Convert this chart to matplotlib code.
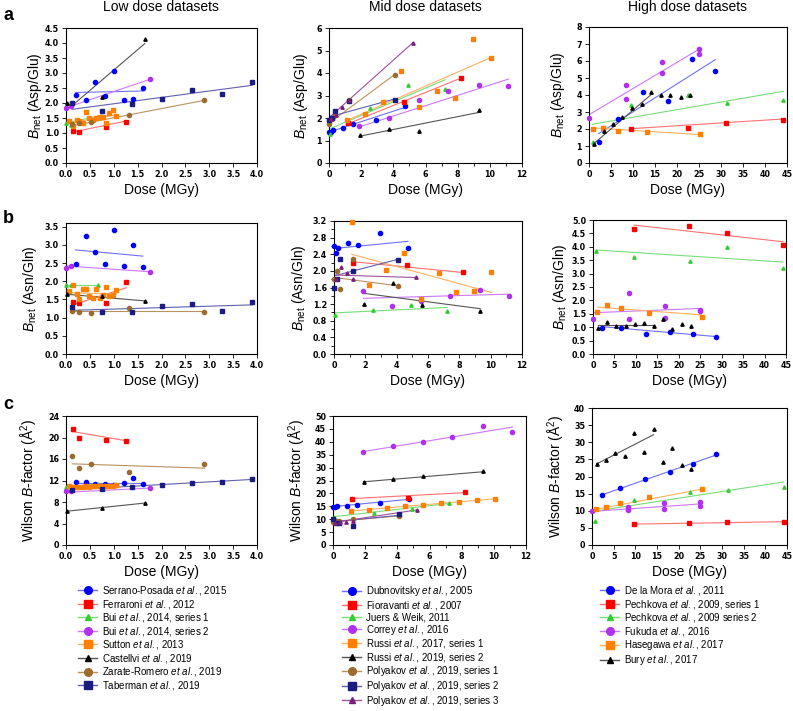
import numpy as np
import matplotlib
matplotlib.use('Agg')
import matplotlib.pyplot as plt
from matplotlib.lines import Line2D

plt.rcParams['font.family'] = 'Liberation Sans'
plt.rcParams['mathtext.fontset'] = 'custom'
plt.rcParams['mathtext.rm'] = 'Liberation Sans'
plt.rcParams['mathtext.it'] = 'Liberation Sans:italic'
plt.rcParams['mathtext.bf'] = 'Liberation Sans:bold'

# ══════════════════════════════════════════════
#  DATA  (dose in MGy; values per row a / b / c)
#  fits = trend line end values for (Asp/Glu, Asn/Gln, Wilson B)
# ══════════════════════════════════════════════
# ── low dose ──
serrano_dose = [0.20, 0.41, 0.61, 0.82, 1.01, 1.22, 1.41, 1.61]
serrano_asp = [2.27, 2.09, 2.71, 2.23, 3.07, 2.11, 2.14, 2.49]
serrano_asn = [2.48, 3.23, 2.81, 2.47, 3.42, 2.43, 2.99, 2.38]
serrano_wil = [11.8, 11.8, 11.4, 11.3, 11.2, 11.6, 12.4, 11.4]
serrano_fits = [(2.35, 2.40), (2.86, 2.69), (11.6, 11.6)]

ferraroni_dose = [0.14, 0.28, 0.84, 1.26]
ferraroni_asp = [1.06, 1.03, 1.20, 1.38]
ferraroni_asn = [1.42, 1.41, 1.39, 1.97]
ferraroni_wil = [21.5, 20.0, 19.5, 19.3]
ferraroni_fits = [(1.03, 1.40), (1.35, 1.82), (21.1, 19.4)]

bui1_dose = [0.0, 0.10, 0.66]
bui1_asp = [1.33, 1.27, 1.53]
bui1_asn = [1.89, 1.89, 1.89]
bui1_wil = [10.8, 10.9, 11.3]
bui1_fits = [(1.33, 1.56), (1.89, 1.89), (10.7, 11.4)]

bui2_dose = [0.0, 0.11, 1.76]
bui2_asp = [1.84, 1.91, 2.79]
bui2_asn = [2.36, 2.42, 2.26]
bui2_wil = [10.0, 10.0, 10.6]
bui2_fits = [(1.84, 2.79), (2.42, 2.26), (9.8, 10.6)]

sutton_dose = [0.07, 0.14, 0.22, 0.28, 0.35, 0.42, 0.49, 0.56, 0.63, 0.71,
               0.78, 0.84, 0.91, 0.98, 1.05]
sutton_asp = [1.40, 1.23, 1.42, 1.39, 1.33, 1.69, 1.51, 1.42, 1.49, 1.54,
              1.54, 1.32, 1.68, 1.78, 1.57]
sutton_asn = [1.73, 1.90, 1.66, 1.50, 1.79, 1.79, 1.60, 1.55, 1.79, 1.53,
              1.62, 1.85, 1.59, 1.62, 1.76]
sutton_wil = [10.9, 10.7, 10.8, 10.7, 10.8, 10.9, 10.8, 10.9, 10.9, 11.0,
              10.9, 11.0, 11.0, 11.0, 11.1]
sutton_fits = [(1.33, 1.61), (1.69, 1.64), (10.7, 11.1)]

castellvi_dose = [0.03, 0.76, 1.65]
castellvi_asp = [2.00, 2.20, 4.14]
castellvi_asn = [1.64, 1.59, 1.46]
castellvi_wil = [6.3, 6.9, 7.8]
castellvi_fits = [(1.78, 3.98), (1.64, 1.46), (6.3, 7.8)]

zarate_dose = [0.13, 0.27, 0.52, 1.31, 2.90]
zarate_asp = [1.30, 1.33, 1.37, 1.61, 2.09]
zarate_asn = [1.19, 1.16, 1.12, 1.26, 1.16]
zarate_wil = [16.6, 14.3, 15.1, 13.5, 15.0]
zarate_fits = [(1.24, 2.09), (1.18, 1.18), (15.1, 14.3)]

taberman_dose = [0.13, 0.76, 1.38, 2.02, 2.64, 3.27, 3.90]
taberman_asp = [2.01, 1.72, 1.98, 2.13, 2.42, 2.31, 2.71]
taberman_asn = [1.28, 1.16, 1.16, 1.33, 1.37, 1.18, 1.42]
taberman_wil = [10.3, 10.4, 10.7, 11.1, 11.5, 11.8, 12.2]
taberman_fits = [(1.79, 2.59), (1.20, 1.35), (10.3, 12.2)]

# ── mid dose ──
dubnovitsky_dose = [0.03, 0.13, 0.26, 0.88, 1.52, 2.92, 4.72]
dubnovitsky_asp = [1.38, 1.36, 1.48, 1.57, 1.72, 1.93, 2.52]
dubnovitsky_asn = [2.61, 2.42, 2.54, 2.66, 2.63, 2.90, 2.54]
dubnovitsky_wil = [14.9, 14.9, 15.0, 15.1, 15.6, 16.4, 17.7]
dubnovitsky_fits = [(1.38, 2.47), (2.54, 2.71), (14.9, 17.7)]

fioravanti_dose = [1.20, 4.65, 8.23]
fioravanti_asp = [1.78, 2.71, 3.79]
fioravanti_asn = [2.20, 2.13, 1.97]
fioravanti_wil = [17.7, 18.3, 20.5]
fioravanti_fits = [(1.75, 3.78), (2.22, 1.96), (18.0, 20.3)]

juers_dose = [0.08, 2.52, 4.93, 7.22]
juers_asp = [1.27, 2.46, 3.48, 3.30]
juers_asn = [0.94, 1.06, 1.17, 1.04]
juers_wil = [11.0, 12.4, 13.8, 16.3]
juers_fits = [(1.53, 3.70), (0.99, 1.12), (11.0, 16.1)]

correy_dose = [1.87, 3.72, 5.57, 7.43, 9.30, 11.16]
correy_asp = [1.66, 1.99, 2.81, 3.19, 3.45, 3.44]
correy_asn = [1.52, 1.16, 1.28, 1.39, 1.54, 1.40]
correy_wil = [36.2, 38.2, 39.9, 41.9, 46.3, 43.8]
correy_fits = [(1.60, 3.73), (1.34, 1.44), (36.2, 45.7)]

russi17_dose = [1.13, 2.24, 3.35, 4.47, 5.58, 6.70, 7.81, 8.93, 10.05]
russi17_asp = [1.90, 2.19, 2.71, 4.10, 2.49, 3.19, 2.90, 5.50, 4.65]
russi17_asn = [3.18, 1.65, 2.03, 2.44, 1.32, 1.96, 1.48, 1.51, 1.97]
russi17_wil = [13.2, 13.4, 14.2, 15.0, 15.6, 16.1, 16.7, 17.3, 17.7]
russi17_fits = [(1.90, 4.68), (2.40, 1.48), (13.2, 17.9)]

russi19_dose = [1.90, 3.74, 5.60, 9.33]
russi19_asp = [1.24, 1.53, 1.42, 2.37]
russi19_asn = [1.21, 1.72, 1.19, 1.03]
russi19_wil = [24.3, 25.6, 26.9, 28.8]
russi19_fits = [(1.19, 2.25), (1.46, 1.09), (24.5, 28.4)]

polyakov1_dose = [0.02, 0.18, 0.36, 1.22, 4.10]
polyakov1_asp = [1.72, 1.94, 2.15, 2.81, 3.91]
polyakov1_asn = [1.80, 1.99, 1.56, 2.29, 1.64]
polyakov1_wil = [9.0, 9.3, 9.2, 10.1, 11.4]
polyakov1_fits = [(1.78, 3.94), (1.84, 1.64), (9.0, 11.3)]

polyakov2_dose = [0.02, 0.18, 0.36, 1.22, 4.10]
polyakov2_asp = [1.90, 2.01, 2.33, 2.74, 2.79]
polyakov2_asn = [1.60, 1.81, 2.29, 1.99, 2.26]
polyakov2_wil = [9.9, 8.7, 8.7, 7.5, 12.0]
polyakov2_fits = [(2.05, 2.85), (1.88, 2.28), (9.0, 11.5)]

polyakov3_dose = [0.10, 0.43, 0.82, 1.22, 5.22]
polyakov3_asp = [1.95, 2.12, 2.49, 2.81, 5.35]
polyakov3_asn = [1.81, 2.09, 1.96, 1.81, 1.86]
polyakov3_wil = [8.6, 8.8, 9.0, 9.3, 13.7]
polyakov3_fits = [(2.08, 5.35), (1.90, 1.84), (8.8, 13.6)]

# ── high dose ──
delamora_dose = [2.2, 6.5, 12.3, 17.9, 23.4, 28.7]
delamora_asp = [1.22, 2.61, 4.18, 3.63, 6.14, 5.43]
delamora_asn = [0.96, 0.96, 0.73, 0.81, 0.73, 0.63]
delamora_wil = [14.6, 16.6, 19.2, 21.4, 23.6, 26.6]
delamora_fits = [(1.73, 6.08), (1.02, 0.65), (14.6, 26.3)]

pechkova1_dose = [9.6, 22.4, 31.2, 44.2]
pechkova1_asp = [1.98, 2.08, 2.35, 2.55]
pechkova1_asn = [4.65, 4.79, 4.50, 4.07]
pechkova1_wil = [6.1, 6.3, 6.6, 6.8]
pechkova1_fits = [(2.02, 2.59), (4.81, 4.19), (6.1, 6.8)]

pechkova2_dose = [0.8, 9.6, 22.5, 31.3, 44.2]
pechkova2_asp = [1.25, 3.41, 4.02, 3.55, 3.71]
pechkova2_asn = [3.84, 3.61, 3.48, 3.98, 3.20]
pechkova2_wil = [7.0, 13.2, 15.4, 16.0, 16.9]
pechkova2_fits = [(2.28, 4.22), (3.88, 3.43), (9.9, 18.4)]

fukuda_dose = [0.0, 8.3, 8.3, 16.7, 16.7, 25.0, 25.0]
fukuda_asp = [2.67, 4.57, 3.78, 5.96, 5.29, 6.69, 6.43]
fukuda_asn = [1.31, 2.26, 1.29, 1.80, 1.33, 1.64, 1.60]
fukuda_wil = [10.0, 11.0, 10.1, 12.2, 10.6, 12.7, 11.3]
fukuda_fits = [(2.84, 6.69), (1.54, 1.70), (9.8, 12.0)]

hasegawa_dose = [1.0, 3.2, 6.5, 13.1, 25.3]
hasegawa_asp = [2.02, 2.06, 1.90, 1.82, 1.71]
hasegawa_asn = [1.57, 1.83, 1.73, 1.54, 1.39]
hasegawa_wil = [10.4, 11.2, 12.4, 13.9, 16.3]
hasegawa_fits = [(2.06, 1.67), (1.75, 1.46), (10.4, 16.3)]

bury_dose = [1.1, 3.3, 5.4, 7.6, 9.8, 12.0, 14.2, 16.3, 18.5, 20.8, 22.9]
bury_asp = [1.10, 1.86, 2.31, 2.69, 3.22, 3.47, 4.20, 4.02, 3.98, 3.88, 4.02]
bury_asn = [0.96, 1.18, 1.06, 1.06, 1.11, 1.14, 1.06, 1.29, 0.93, 1.11, 1.06]
bury_wil = [23.7, 24.9, 27.0, 25.9, 32.6, 27.1, 33.9, 24.3, 28.3, 23.5, 22.1]
bury_fits = [(1.14, 4.04), (1.08, 1.08), (23.7, 32.2)]
bury_fit_end = 14.2   # trend only over the first seven points

ETAL = r'$\mathit{et\ al.}$'

# colours: marker, trend line
BLUE = ('#0000ff', '#7070ff')
RED = ('#ff0000', '#ff7070')
GREEN = ('#33cc33', '#77dd77')
PURPLE = ('#b030f0', '#cc77ff')
ORANGE = ('#ff8000', '#ffb060')
BLACK = ('#000000', '#555555')
BROWN = ('#9c6b30', '#b8925e')
NAVY = ('#1c1c80', '#6060b0')
PLUM = ('#7a1f7a', '#a050a0')

low_sets = [
    ('Serrano-Posada ' + ETAL + ', 2015', 'o', BLUE, serrano_dose,
     [serrano_asp, serrano_asn, serrano_wil], serrano_fits),
    ('Ferraroni ' + ETAL + ', 2012', 's', RED, ferraroni_dose,
     [ferraroni_asp, ferraroni_asn, ferraroni_wil], ferraroni_fits),
    ('Bui ' + ETAL + ', 2014, series 1', '^', GREEN, bui1_dose,
     [bui1_asp, bui1_asn, bui1_wil], bui1_fits),
    ('Bui ' + ETAL + ', 2014, series 2', 'o', PURPLE, bui2_dose,
     [bui2_asp, bui2_asn, bui2_wil], bui2_fits),
    ('Sutton ' + ETAL + ', 2013', 's', ORANGE, sutton_dose,
     [sutton_asp, sutton_asn, sutton_wil], sutton_fits),
    ('Castellvi ' + ETAL + ', 2019', '^', BLACK, castellvi_dose,
     [castellvi_asp, castellvi_asn, castellvi_wil], castellvi_fits),
    ('Zarate-Romero ' + ETAL + ', 2019', 'o', BROWN, zarate_dose,
     [zarate_asp, zarate_asn, zarate_wil], zarate_fits),
    ('Taberman ' + ETAL + ', 2019', 's', NAVY, taberman_dose,
     [taberman_asp, taberman_asn, taberman_wil], taberman_fits),
]
mid_sets = [
    ('Dubnovitsky ' + ETAL + ', 2005', 'o', BLUE, dubnovitsky_dose,
     [dubnovitsky_asp, dubnovitsky_asn, dubnovitsky_wil], dubnovitsky_fits),
    ('Fioravanti ' + ETAL + ', 2007', 's', RED, fioravanti_dose,
     [fioravanti_asp, fioravanti_asn, fioravanti_wil], fioravanti_fits),
    ('Juers & Weik, 2011', '^', GREEN, juers_dose,
     [juers_asp, juers_asn, juers_wil], juers_fits),
    ('Correy ' + ETAL + ', 2016', 'o', PURPLE, correy_dose,
     [correy_asp, correy_asn, correy_wil], correy_fits),
    ('Russi ' + ETAL + ', 2017, series 1', 's', ORANGE, russi17_dose,
     [russi17_asp, russi17_asn, russi17_wil], russi17_fits),
    ('Russi ' + ETAL + ', 2019, series 2', '^', BLACK, russi19_dose,
     [russi19_asp, russi19_asn, russi19_wil], russi19_fits),
    ('Polyakov ' + ETAL + ', 2019, series 1', 'o', BROWN, polyakov1_dose,
     [polyakov1_asp, polyakov1_asn, polyakov1_wil], polyakov1_fits),
    ('Polyakov ' + ETAL + ', 2019, series 2', 's', NAVY, polyakov2_dose,
     [polyakov2_asp, polyakov2_asn, polyakov2_wil], polyakov2_fits),
    ('Polyakov ' + ETAL + ', 2019, series 3', '^', PLUM, polyakov3_dose,
     [polyakov3_asp, polyakov3_asn, polyakov3_wil], polyakov3_fits),
]
high_sets = [
    ('De la Mora ' + ETAL + ', 2011', 'o', BLUE, delamora_dose,
     [delamora_asp, delamora_asn, delamora_wil], delamora_fits),
    ('Pechkova ' + ETAL + ', 2009, series 1', 's', RED, pechkova1_dose,
     [pechkova1_asp, pechkova1_asn, pechkova1_wil], pechkova1_fits),
    ('Pechkova ' + ETAL + ', 2009 series 2', '^', GREEN, pechkova2_dose,
     [pechkova2_asp, pechkova2_asn, pechkova2_wil], pechkova2_fits),
    ('Fukuda ' + ETAL + ', 2016', 'o', PURPLE, fukuda_dose,
     [fukuda_asp, fukuda_asn, fukuda_wil], fukuda_fits),
    ('Hasegawa ' + ETAL + ', 2017', 's', ORANGE, hasegawa_dose,
     [hasegawa_asp, hasegawa_asn, hasegawa_wil], hasegawa_fits),
    ('Bury ' + ETAL + ', 2017', '^', BLACK, bury_dose,
     [bury_asp, bury_asn, bury_wil], bury_fits),
]

row_labels = [r'$\mathit{B}_{\mathrm{net}}$ (Asp/Glu)',
              r'$\mathit{B}_{\mathrm{net}}$ (Asn/Gln)',
              r'Wilson $\mathit{B}$-factor (Å$^{2}$)']

# ══════════════════════════════════════════════
#  LAYOUT  (pixel boxes: left, right, top, bottom)
# ══════════════════════════════════════════════
W, H = 793, 711
fig = plt.figure(figsize=(W / 100, H / 100), dpi=100)


def box(l, r, t, b):
    return [l / W, 1 - b / H, (r - l) / W, (b - t) / H]


columns = [
    dict(sets=low_sets, title='Low dose datasets', tx=161,
         x=(4.0, 0.5, '{:.1f}', None),
         rows=[((66, 257, 28, 163), (4.5, 4.5, 0.5, '{:.1f}', None), 22),
               ((66, 257, 223, 354), (3.6, 3.5, 0.5, '{:.1f}', None), 27),
               ((66, 257, 416, 545), (24, 24, 4, '{:.0f}', None), 26)],
         leg=(78, 584)),
    dict(sets=mid_sets, title='Mid dose datasets', tx=425,
         x=(12, 2, '{:.0f}', 1),
         rows=[((329, 522, 28, 163), (6, 6, 1, '{:.0f}', None), 19),
               ((334, 522, 221, 354), (3.2, 3.2, 0.4, '{:.1f}', 0.2), 26),
               ((333, 526, 416, 545), (50, 50, 5, '{:.0f}', None), 25)],
         leg=(342, 584)),
    dict(sets=high_sets, title='High dose datasets', tx=688,
         x=(45, 5, '{:.0f}', None),
         rows=[((589, 787, 27, 163), (8, 8, 1, '{:.0f}', None), 22),
               ((593, 786, 220, 354), (5.0, 5.0, 0.5, '{:.1f}', None), 24),
               ((592, 787, 408, 545), (40, 40, 5, '{:.0f}', None), 25)],
         leg=(600, 584)),
]

tick_font = dict(fontfamily='DejaVu Sans', fontweight='bold', fontsize=5.8)

for col in columns:
    xmax, xstep, xfmt, xminor = col['x']
    for r, (pix, (ytop, ylab_max, ystep, yfmt, yminor), lab_dx) in enumerate(col['rows']):
        l, rr, t, b = pix
        ax = fig.add_axes(box(l, rr, t, b))
        for name, mk, (mc, lc), dose, vals, fits in col['sets']:
            x_end = bury_fit_end if dose is bury_dose else dose[-1]
            ax.plot([dose[0], x_end], fits[r], color=lc, lw=0.8, zorder=2)
        for name, mk, (mc, lc), dose, vals, fits in col['sets']:
            ms = 2.4 if mk == '^' else 3.0
            ax.plot(dose, vals[r], ls='none', marker=mk, ms=ms, color=mc,
                    mec=mc, zorder=3, clip_on=False)
        ax.set_xlim(0, xmax)
        ax.set_ylim(0, ytop)
        xt = np.arange(0, xmax + 1e-9, xstep)
        yt = np.arange(0, ylab_max + 1e-9, ystep)
        ax.set_xticks(xt, labels=[xfmt.format(v) for v in xt], **tick_font)
        ax.set_yticks(yt, labels=[yfmt.format(v) for v in yt], **tick_font)
        if xminor:
            ax.set_xticks(np.arange(0, xmax + 1e-9, xminor), minor=True)
        if yminor:
            ax.set_yticks(np.arange(0, ytop + 1e-9, yminor), minor=True)
        ax.tick_params(which='both', direction='out', length=3, width=0.6,
                       pad=2)
        ax.tick_params(which='minor', length=2)
        for sp in ax.spines.values():
            sp.set_linewidth(0.8)
        ax.set_xlabel('Dose (MGy)', fontsize=10)
        ax.xaxis.set_label_coords(0.5, -20 / (b - t))
        ax.set_ylabel(row_labels[r], fontsize=10)
        ax.yaxis.set_label_coords(-lab_dx / (rr - l), 0.5)

    fig.text(col['tx'] / W, 1 - 11 / H, col['title'], ha='center',
             va='baseline', fontsize=10)

    handles = [Line2D([], [], color=lc, lw=1.0, marker=mk,
                      ms=5.5 if mk != '^' else 5, mfc=mc, mec=mc)
               for name, mk, (mc, lc), dose, vals, fits in col['sets']]
    labels = [s[0] for s in col['sets']]
    lx, ly = col['leg']
    fig.legend(handles, labels, loc='upper left',
               bbox_to_anchor=(lx / W, 1 - ly / H), frameon=False,
               fontsize=7, handlelength=2.0, handletextpad=0.5,
               labelspacing=0.06, borderpad=0, borderaxespad=0)

for letter, y in [('a', 20), ('b', 223), ('c', 409)]:
    fig.text(3 / W, 1 - y / H, letter, fontsize=13, fontweight='bold',
             va='baseline', ha='left')

plt.savefig('out.png', dpi=100)
